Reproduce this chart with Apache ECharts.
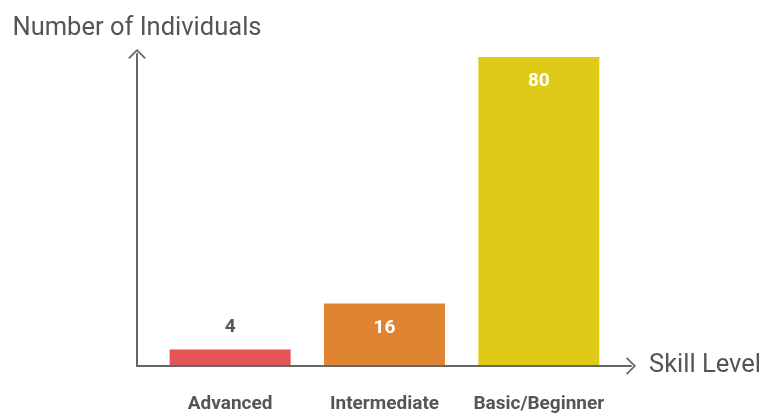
<!DOCTYPE html>
<html><head><meta charset="utf-8">
<script src="https://cdn.jsdelivr.net/npm/echarts@6/dist/echarts.min.js"></script>
<style>html,body{margin:0;padding:0;background:#fff}#c{width:764px;height:414px}</style>
</head><body><div id="c"></div>
<script>
const categories = ['Advanced', 'Intermediate', 'Basic/Beginner'];
const values = [4, 16, 80];
const yAxisTitle = 'Number of Individuals';
const xAxisTitle = 'Skill Level';

const barColors = ['#E25555', '#DF8431', '#DFCB17'];
const chevron = 'path://M0,10 L10,0 L20,10 L18.6,11.4 L10,2.8 L1.4,11.4 Z';
const font = 'Roboto';

const chart = echarts.init(document.getElementById('c'), null, {renderer: 'canvas'});
chart.setOption({
  animation: false,
  grid: [
    {left: 153, right: 148, top: 57, bottom: 48},
    {left: 137, right: 131, top: 54, bottom: 48}
  ],
  xAxis: [
    {type: 'category', gridIndex: 0, data: categories,
     axisLine: {show: false}, axisTick: {show: false},
     axisLabel: {interval: 0, hideOverlap: false, color: '#555', fontFamily: font, fontWeight: 'bold', fontSize: 19, margin: 30}},
    {type: 'value', gridIndex: 1, min: 0, max: 1,
     axisLine: {show: true, lineStyle: {color: '#666', width: 2}, symbol: ['none', chevron], symbolSize: [18, 10]},
     axisTick: {show: false}, axisLabel: {show: false}, splitLine: {show: false},
     name: xAxisTitle, nameLocation: 'end', nameGap: 18,
     nameTextStyle: {color: '#555', fontFamily: font, fontSize: 25.5, padding: [6, 0, 0, 0]}}
  ],
  yAxis: [
    {type: 'value', gridIndex: 0, min: 0, max: 80,
     axisLine: {show: false}, axisTick: {show: false}, axisLabel: {show: false}, splitLine: {show: false}},
    {type: 'value', gridIndex: 1, min: 0, max: 1,
     axisLine: {show: true, lineStyle: {color: '#666', width: 2}, symbol: ['none', chevron], symbolSize: [18, 10]},
     axisTick: {show: false}, axisLabel: {show: false}, splitLine: {show: false},
     name: yAxisTitle, nameLocation: 'end', nameGap: 12,
     nameTextStyle: {color: '#555', fontFamily: font, fontSize: 25.5}}
  ],
  series: [{
    type: 'bar', xAxisIndex: 0, yAxisIndex: 0, barWidth: 121,
    data: values.map((v, i) => ({
      value: v,
      itemStyle: {color: barColors[i]},
      label: i === 0
        ? {show: true, position: 'top', distance: 13, color: '#555'}
        : {show: true, position: 'insideTop', distance: 15, color: '#fff'}
    })),
    label: {fontFamily: font, fontWeight: 'bold', fontSize: 19}
  }]
});
</script></body></html>
